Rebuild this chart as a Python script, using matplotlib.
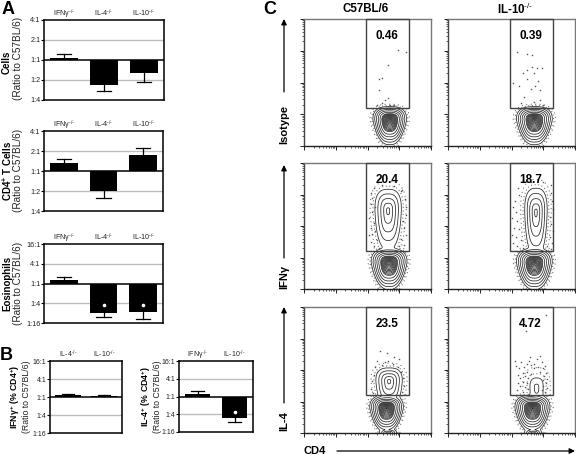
import numpy as np
import matplotlib
matplotlib.use('Agg')
import matplotlib.pyplot as plt
from matplotlib.patches import Rectangle

plt.rcParams['font.family'] = ['Liberation Sans', 'DejaVu Sans']
plt.rcParams['mathtext.fontset'] = 'custom'
plt.rcParams['mathtext.rm'] = 'Liberation Sans'
plt.rcParams['mathtext.bf'] = 'Liberation Sans:bold'

W, H = 576, 455
KO = r'$^{\text{-/-}}$'

# bar panels, values in log2 of the ratio
cells_labels = ['IFNγ' + KO, 'IL-4' + KO, 'IL-10' + KO]
cells_vals = [0.1, -1.27, -0.67]
cells_errs = [0.3, -1.57, -1.1]
cd4_vals = [0.42, -1.0, 0.82]
cd4_errs = [0.62, -1.37, 1.15]
eos_vals = [0.4, -3.0, -2.92]
eos_errs = [0.66, -3.4, -3.56]
ifn_labels = ['IL-4' + KO, 'IL-10' + KO]
ifn_vals = [0.18, 0.1]
ifn_errs = [0.32, 0.18]
il4_labels = ['IFNγ' + KO, 'IL-10' + KO]
il4_vals = [0.26, -2.4]
il4_errs = [0.62, -2.9]
small_ticks = [-2, -1, 0, 1, 2]
small_ticklabels = ['1:4', '1:2', '1:1', '2:1', '4:1']
big_ticks = [-4, -2, 0, 2, 4]
big_ticklabels = ['1:16', '1:4', '1:1', '4:1', '16:1']

# flow panels: populations as (x, y, sx, sy, weight) in decades
iso_b6 = [(2.7, 0.82, 0.122, 0.097, 1.15)]
iso_il10 = [(2.72, 0.82, 0.13, 0.097, 1.15)]
ifn_b6 = [(2.68, 0.83, 0.13, 0.105, 1.15), (2.65, 2.5, 0.2, 0.32, 0.12)]
ifn_il10 = [(2.72, 0.83, 0.13, 0.105, 1.15), (2.77, 2.45, 0.17, 0.36, 0.12)]
il4_b6 = [(2.6, 0.79, 0.122, 0.094, 1.15), (2.65, 0.0, 0.14, 0.06, 0.1), (2.68, 1.65, 0.2, 0.2, 0.12)]
il4_il10 = [(2.66, 0.79, 0.127, 0.094, 1.15), (2.68, 0.0, 0.14, 0.06, 0.1), (2.79, 1.45, 0.3, 0.43, 0.03)]

iso_b6_dots = [(2.97, 3.03), (3.2, 2.97), (2.63, 2.56), (2.35, 2.1), (2.47, 2.15), (2.35, 1.75),
               (2.55, 1.45), (2.65, 1.52), (2.45, 1.36), (2.7, 1.3), (2.3, 1.28), (2.85, 1.3)]
iso_il10_dots = [(2.18, 2.96), (2.5, 2.9), (2.65, 2.88), (2.5, 2.4), (2.63, 2.5), (2.8, 2.45), (2.95, 2.45),
                 (2.35, 2.3), (2.7, 2.3), (2.05, 2.0), (2.25, 1.9), (2.5, 2.1), (2.75, 1.9), (2.85, 2.05),
                 (2.9, 1.75), (2.6, 1.8), (2.4, 1.55), (2.7, 1.4), (2.9, 1.45), (2.3, 1.35), (3.0, 1.3)]
ifn_b6_dots = [(2.2, 3.2), (2.45, 3.3), (2.85, 3.28), (3.1, 3.15), (2.15, 2.9), (2.1, 2.7), (3.18, 2.85), (3.2, 2.6),
               (2.15, 2.45), (2.05, 2.25), (3.2, 2.35), (3.12, 2.15), (2.2, 2.1), (2.1, 1.95), (3.15, 1.95),
               (2.05, 1.7), (2.15, 1.75), (2.25, 1.85), (3.2, 1.7), (3.05, 1.6), (2.1, 1.5), (2.3, 1.55),
               (2.2, 1.35), (3.15, 1.4), (3.0, 1.35), (2.35, 1.3), (2.25, 2.6), (2.12, 3.05), (3.05, 3.1)]
ifn_il10_dots = [(2.35, 3.45), (2.6, 3.4), (3.0, 3.4), (3.25, 3.3), (2.2, 3.2), (2.25, 3.0), (2.12, 2.8), (3.25, 3.05),
                 (3.28, 2.8), (2.05, 2.6), (2.15, 2.45), (3.3, 2.55), (3.22, 2.3), (2.0, 2.25), (2.18, 2.15),
                 (2.08, 1.95), (2.25, 1.9), (3.25, 2.05), (3.3, 1.85), (2.0, 1.7), (2.15, 1.65), (3.2, 1.65),
                 (2.3, 1.55), (2.05, 1.45), (3.27, 1.45), (2.18, 1.35), (2.35, 1.3), (3.12, 1.35), (3.25, 1.28)]
il4_b6_dots = [(2.4, 2.6), (2.6, 2.55), (2.85, 2.4), (3.0, 2.35), (2.3, 2.3), (2.55, 2.25), (2.8, 2.2),
               (2.25, 2.1), (2.45, 2.15), (2.95, 2.1), (3.05, 1.95), (2.2, 1.85), (2.3, 1.95), (2.65, 2.3),
               (2.15, 1.65), (3.12, 1.75), (3.15, 1.5), (2.12, 1.4), (2.18, 1.28), (3.1, 1.3)]
il4_il10_dots = [(3.1, 3.75), (2.45, 3.25), (2.1, 2.3), (2.3, 2.25), (2.55, 2.3), (2.8, 2.35), (2.95, 2.25), (3.0, 2.05),
                 (2.25, 2.05), (2.4, 2.1), (2.6, 2.15), (2.7, 2.05), (2.85, 2.1), (3.1, 1.9), (2.2, 1.85), (2.35, 1.9),
                 (2.5, 1.95), (2.62, 1.88), (2.72, 2.2), (2.9, 1.95), (3.02, 1.82), (3.12, 1.7), (2.28, 1.75), (2.42, 1.8),
                 (2.52, 1.75), (2.98, 1.68), (3.08, 1.58), (2.2, 1.6), (2.35, 1.62), (2.48, 1.6), (3.0, 1.5), (3.12, 1.42),
                 (2.28, 1.48), (2.42, 1.45), (2.52, 1.4), (2.18, 1.35), (3.05, 1.3), (2.35, 1.3), (2.95, 1.35), (2.58, 2.42),
                 (2.9, 2.45), (2.48, 2.2), (3.05, 2.12), (2.15, 2.12)]

pct_labels = [['0.46', '0.39'], ['20.4', '18.7'], ['23.5', '4.72']]
gate_x = (1.95, 3.3)
gate_y = (1.21, 4.0)


def px_axes(left, top, right, bottom):
    return fig.add_axes([left / W, 1 - bottom / H, (right - left) / W, (bottom - top) / H])


def ptext(x, y, s, **kw):
    kw.setdefault('ha', 'center')
    kw.setdefault('va', 'center')
    fig.text(x / W, 1 - y / H, s, **kw)


def bar_panel(box, labels, vals, errs, ticks, ticklabels, stars=(), fs=5.2):
    ax = px_axes(*box)
    xs = np.arange(len(vals))
    ax.set_xlim(-0.5, len(vals) - 0.5)
    ax.set_ylim(ticks[0], ticks[-1])
    for t in ticks[1:-1]:
        if t != 0:
            ax.axhline(t, color='#bdbdbd', lw=1.0, zorder=1)
    ax.bar(xs, vals, width=0.7, color='black', zorder=2)
    for x, v, e in zip(xs, vals, errs):
        ax.plot([x, x], [v, e], color='black', lw=0.9, zorder=2)
        ax.plot([x - 0.18, x + 0.18], [e, e], color='black', lw=0.9, zorder=2)
    ax.axhline(0, color='black', lw=1.1, zorder=3)
    for i in stars:
        ax.plot(i, vals[i] * 0.73, marker='o', ms=2.6, color='white', mew=0, zorder=4)
    ax.set_xticks([])
    ax.set_yticks(ticks)
    ax.set_yticklabels(ticklabels, fontsize=fs, color='#222222')
    ax.tick_params(axis='y', length=2, width=0.8, pad=0.5)
    for s in ax.spines.values():
        s.set_linewidth(1.1)
    for x, lab in zip(xs, labels):
        ax.annotate(lab, (x, 1), xycoords=('data', 'axes fraction'), xytext=(0, 2.6),
                    textcoords='offset points', ha='center', va='baseline', fontsize=fs, color='#222222')
    return ax


def flow_panel(box, pops, dots, gate_label):
    ax = px_axes(*box)
    xg, yg = np.meshgrid(np.linspace(0, 4, 500), np.linspace(0, 4, 500))
    z = np.zeros_like(xg)
    for cx, cy, sx, sy, w in pops:
        # egg shape, longer and narrower below the centre
        below = yg < cy
        sy_e = np.where(below, sy * 1.85, sy)
        t = np.clip((cy - yg) / (4.2 * sy * 1.85), 0, 1)
        sx_e = sx * (1 - 0.3 * t)
        r = (np.abs((xg - cx) / sx_e) ** 2.7 + np.abs((yg - cy) / sy_e) ** 2.7) ** (1 / 2.7)
        z = z + (w * np.exp(-r)) ** 4
    z = z ** 0.25
    ax.contour(xg, yg, z, levels=[0.007, 0.011], colors='#777777', linewidths=0.8,
               linestyles=[(0, (1, 3)), (0, (1, 2.2))])
    levels = np.concatenate([np.geomspace(0.015, 0.15, 6), np.geomspace(0.18, 1.05, 10)])
    ax.contour(xg, yg, z, levels=levels, colors='#262626', linewidths=0.55)
    if dots:
        ax.plot([d[0] for d in dots], [d[1] for d in dots], ls='', marker='s', ms=1.0, mew=0, color='#555555')
    ax.add_patch(Rectangle((gate_x[0], gate_y[0]), gate_x[1] - gate_x[0], gate_y[1] - gate_y[0],
                           fill=False, ec='#444444', lw=1.0, zorder=5, clip_on=False))
    ax.text(sum(gate_x) / 2 - 0.02, 3.47, gate_label, ha='center', va='center', fontsize=8.5,
            fontweight='bold', zorder=6)
    ax.set_xlim(0, 4)
    ax.set_ylim(0, 4)
    decades = np.arange(0, 5)
    minor = np.array([d + np.log10(m) for d in range(4) for m in range(2, 10)])
    for axis in (ax.xaxis, ax.yaxis):
        axis.set_ticks(decades)
        axis.set_ticks(minor, minor=True)
        axis.set_ticklabels([])
    ax.tick_params(which='major', length=2.6, width=0.7, color='#222222')
    ax.tick_params(which='minor', length=1.4, width=0.55, color='#333333')
    for s in ax.spines.values():
        s.set_linewidth(1.0)
        s.set_color('#777777')
    ax.spines['bottom'].set_color('#222222')
    ax.spines['left'].set_color('#444444')
    return ax


def arrow(x0, y0, x1, y1):
    ax_full.annotate('', xy=(x1, y1), xytext=(x0, y0),
                     arrowprops=dict(arrowstyle='-|>', color='black', lw=0.9, mutation_scale=8, shrinkA=0, shrinkB=0))


fig = plt.figure(figsize=(W / 100, H / 100), dpi=100)
ax_full = fig.add_axes([0, 0, 1, 1])
ax_full.set_xlim(0, W)
ax_full.set_ylim(H, 0)
ax_full.axis('off')

bar_panel((44, 20, 164, 100), cells_labels, cells_vals, cells_errs, small_ticks, small_ticklabels)
bar_panel((44, 131, 163, 211), cells_labels, cd4_vals, cd4_errs, small_ticks, small_ticklabels)
bar_panel((44, 244, 163, 323), cells_labels, eos_vals, eos_errs, big_ticks, big_ticklabels, stars=(1, 2))
bar_panel((50, 361, 122, 433), ifn_labels, ifn_vals, ifn_errs, big_ticks, big_ticklabels, fs=5)
bar_panel((179, 361, 253, 432), il4_labels, il4_vals, il4_errs, big_ticks, big_ticklabels, stars=(1,), fs=5)

for x, y, s in [(8, 9, 'A'), (6, 356, 'B'), (270, 9, 'C')]:
    ptext(x, y, s, fontsize=13, fontweight='bold')

for yb, yr, name in [(62, 58, 'Cells'), (171, 170, r'CD4$^{\mathbf{+}}$ T Cells'), (283, 283, 'Eosinophils')]:
    ptext(7, yb, name, rotation=90, fontsize=7, fontweight='bold')
    ptext(18, yr, '(Ratio to C57BL/6)', rotation=90, fontsize=7.2, color='#222222')

ptext(15, 397, r'IFNγ$^{\mathbf{+}}$ (% CD4$^{\mathbf{+}}$)', rotation=90, fontsize=6.3, fontweight='bold')
ptext(27, 397, '(Ratio to C57BL/6)', rotation=90, fontsize=6.3, color='#222222')
ptext(146, 397, r'IL-4$^{\mathbf{+}}$ (% CD4$^{\mathbf{+}}$)', rotation=90, fontsize=6.3, fontweight='bold')
ptext(158, 397, '(Ratio to C57BL/6)', rotation=90, fontsize=6.3, color='#222222')

flow_panel((304, 19, 431, 146), iso_b6, iso_b6_dots, pct_labels[0][0])
flow_panel((448, 19, 575, 146), iso_il10, iso_il10_dots, pct_labels[0][1])
flow_panel((304, 163, 431, 289), ifn_b6, ifn_b6_dots, pct_labels[1][0])
flow_panel((448, 163, 575, 289), ifn_il10, ifn_il10_dots, pct_labels[1][1])
flow_panel((304, 307, 431, 433), il4_b6, il4_b6_dots, pct_labels[2][0])
flow_panel((448, 307, 575, 433), il4_il10, il4_il10_dots, pct_labels[2][1])

ptext(366, 9, 'C57BL/6', fontsize=8.3, fontweight='bold')
ptext(515, 9, 'IL-10' + KO, fontsize=8.3, fontweight='bold')
ptext(284, 125, 'Isotype', rotation=90, fontsize=8, fontweight='bold')
ptext(284, 277, 'IFNγ', rotation=90, fontsize=8, fontweight='bold')
ptext(284, 421, 'IL-4', rotation=90, fontsize=8, fontweight='bold')
ptext(315, 451, 'CD4', fontsize=8, fontweight='bold')

arrow(284, 92, 284, 19)
arrow(284, 258, 284, 165)
arrow(284, 403, 284, 307)
arrow(337, 451, 575, 451)

fig.savefig('out.png', dpi=100)
